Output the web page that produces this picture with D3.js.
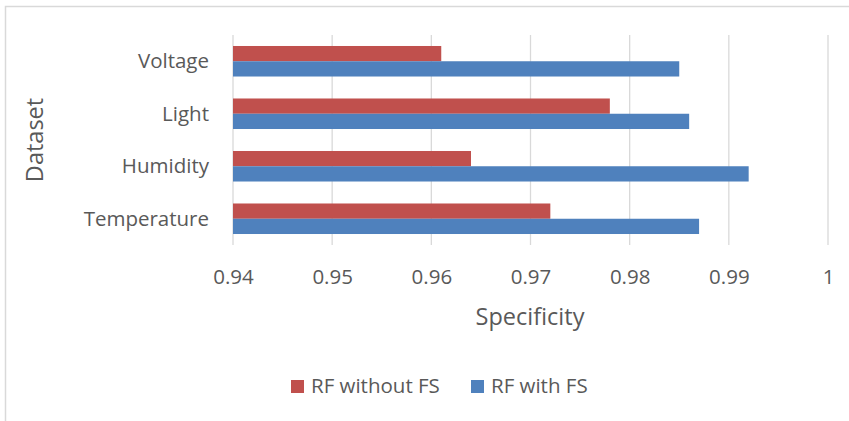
<!DOCTYPE html>
<html><head><meta charset="utf-8">
<script src="https://cdn.jsdelivr.net/npm/d3@7"></script>
<style>body{margin:0;background:#fff;} text{font-family:"Open Sans", sans-serif; fill:#595959;}</style>
</head><body><svg id="c" width="849" height="421"></svg>
<script>
const categories = ["Voltage", "Light", "Humidity", "Temperature"];
const seriesNames = ["RF without FS", "RF with FS"];
const withoutFS = [0.961, 0.978, 0.964, 0.972];
const withFS = [0.985, 0.986, 0.992, 0.987];
const ticks = [0.94, 0.95, 0.96, 0.97, 0.98, 0.99, 1];
const colors = ["#C0504D", "#4F81BD"];

const svg = d3.select("#c");
// chart frame
svg.append("path").attr("d","M5.5,421 V6.5 H849").attr("fill","none").attr("stroke","#d9d9d9").attr("stroke-width",1.5);

const x = d3.scaleLinear().domain([0.94, 1]).range([233, 828]);
const y = d3.scaleBand().domain(categories).range([35, 245]).paddingInner(0).paddingOuter(0);
const inner = d3.scaleBand().domain(seriesNames).range([0, y.bandwidth()]).paddingInner(0).paddingOuter(0.72);

// gridlines
svg.append("g").selectAll("line").data(ticks).join("line")
  .attr("x1", d => x(d)).attr("x2", d => x(d)).attr("y1", 35).attr("y2", 245)
  .attr("stroke", "#d9d9d9").attr("stroke-width", 1.3);

const data = categories.map((c,i)=>({c, vals:[withoutFS[i], withFS[i]]}));
const g = svg.append("g");
data.forEach(d=>{
  d.vals.forEach((v,j)=>{
    g.append("rect")
      .attr("x", x(0.94)).attr("y", y(d.c) + inner(seriesNames[j]))
      .attr("width", x(v) - x(0.94)).attr("height", inner.bandwidth())
      .attr("fill", colors[j]);
  });
});

// x axis tick labels
const xa = svg.append("g").attr("transform","translate(0,245)")
  .call(d3.axisBottom(x).tickValues(ticks).tickSize(0).tickPadding(0).tickFormat(d=>d3.format("")(d)));
xa.select(".domain").remove();
xa.selectAll("text").attr("dy", null).attr("y", 39).style("font-size","20.5px").attr("fill","#595959");

// y axis labels
const ya = svg.append("g").attr("transform","translate(209,0)")
  .call(d3.axisLeft(y).tickSize(0).tickPadding(0));
ya.select(".domain").remove();
ya.selectAll("text").attr("dy","0.35em").attr("x", 0).style("font-size","20.5px").attr("fill","#595959");

// axis titles
svg.append("text").attr("x", 530).attr("y", 325).attr("text-anchor","middle").style("font-size","23.5px").text("Specificity");
svg.append("text").attr("transform","translate(43,140) rotate(-90)").attr("text-anchor","middle").style("font-size","23.5px").text("Dataset");

// legend
const leg = svg.append("g");
const legX = [291, 471];
seriesNames.forEach((s,i)=>{
  leg.append("rect").attr("x", legX[i]).attr("y", 380).attr("width", 13).attr("height", 13).attr("fill", colors[i]);
  leg.append("text").attr("x", legX[i] + 20).attr("y", 393).style("font-size","20.5px").text(s);
});
</script></body></html>
